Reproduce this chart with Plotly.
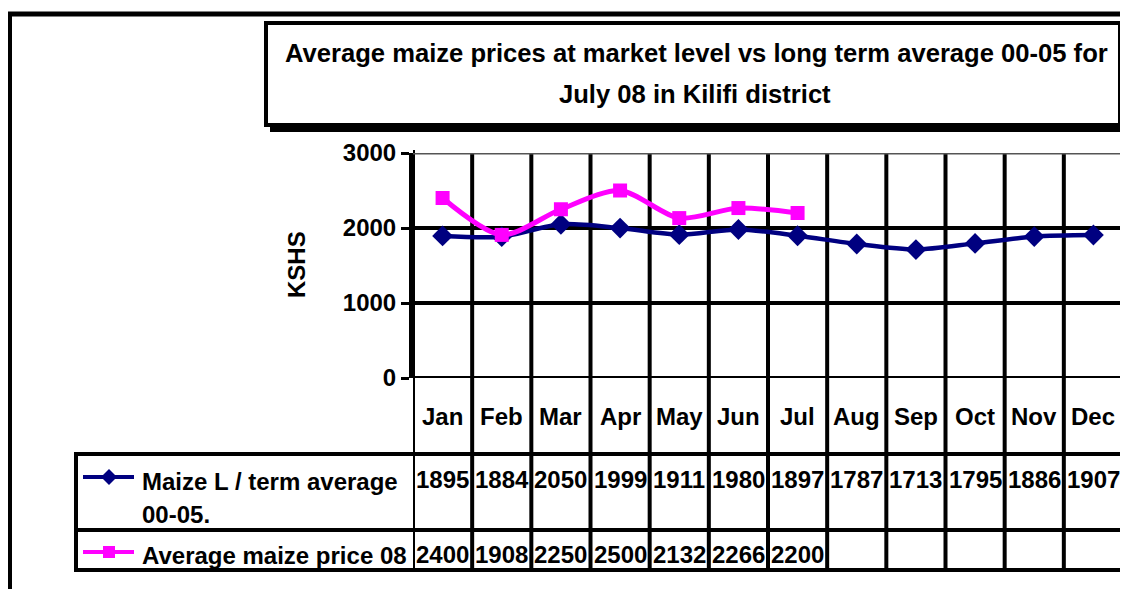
import plotly.graph_objects as go

months = ["Jan", "Feb", "Mar", "Apr", "May", "Jun", "Jul", "Aug", "Sep", "Oct", "Nov", "Dec"]
long_term_avg = [1895, 1884, 2050, 1999, 1911, 1980, 1897, 1787, 1713, 1795, 1886, 1907]
price_08 = [2400, 1908, 2250, 2500, 2132, 2266, 2200]
series_names = ["Maize L / term average<br>00-05.", "Average maize price 08"]
title_lines = ["Average maize prices at market level vs long term average 00-05 for",
               "July 08 in Kilifi district"]
y_ticks = [0, 1000, 2000, 3000]

NAVY = "#000080"
MAGENTA = "#FF00FF"
FONT = "Arial, Liberation Sans, sans-serif"

# page body has an 8px margin; figure is sized to fit the 1128x589 window
OFF = 8
W, H = 1128 - OFF, 589 - OFF
L, R, T = 413 - OFF, 5, 153 - OFF
PW = W - L - R
PH = 378 - 153
B = H - T - PH


def PX(x):  # screen x -> paper
    return (x - 413) / PW


def PY(y):  # screen y -> paper
    return (378 - y) / PH


idx = list(range(len(months)))

fig = go.Figure()
fig.add_trace(go.Scatter(
    x=idx, y=long_term_avg, mode="lines+markers", line=dict(color=NAVY, width=4.5, shape="spline", smoothing=0.8),
    marker=dict(symbol="diamond", size=16, color=NAVY), showlegend=False))
fig.add_trace(go.Scatter(
    x=idx[:len(price_08)], y=price_08, mode="lines+markers",
    line=dict(color=MAGENTA, width=5, shape="spline", smoothing=0.8),
    marker=dict(symbol="square", size=14, color=MAGENTA), showlegend=False))

shapes = []


def line(x0, y0, x1, y1, xref="paper", yref="paper", w=4, color="black", layer="above"):
    shapes.append(dict(type="line", x0=x0, y0=y0, x1=x1, y1=y1, xref=xref, yref=yref,
                       line=dict(color=color, width=w), layer=layer))


# outer frame
line(PX(9), PY(600), PX(9), PY(13), w=6)
line(PX(6), PY(14), PX(1135), PY(14), w=5)
# title box with shadow
shapes.append(dict(type="rect", xref="paper", yref="paper", x0=PX(270), x1=PX(1126), y0=PY(28), y1=PY(132),
                   fillcolor="black", line=dict(width=0), layer="below"))
shapes.append(dict(type="rect", xref="paper", yref="paper", x0=PX(266), x1=PX(1120), y0=PY(23), y1=PY(125),
                   fillcolor="white", line=dict(color="black", width=4), layer="below"))
# vertical column lines
for i in range(len(months) + 1):
    top = PY(150) if i == 0 else PY(153)
    line(i - 0.5, top, i - 0.5, PY(570), xref="x", layer="below" if 0 < i < 12 else "above")
# horizontal lines in plot
line(-0.5, 3000, 11.5, 3000, xref="x", yref="y", w=3, color="#555555")
for v in [1000, 2000]:
    line(-0.5, v, 11.5, v, xref="x", yref="y", layer="below")
line(-0.5, 0, 11.5, 0, xref="x", yref="y")
# table lines
line(PX(76), PY(454), PX(1123), PY(454))
line(PX(76), PY(530), PX(1123), PY(530))
line(PX(76), PY(570), PX(1123), PY(570))
line(PX(76), PY(452), PX(76), PY(572))
# legend keys
line(PX(83), PY(477), PX(134), PY(477), w=4, color=NAVY)
cx, cy = 109, 477
shapes.append(dict(type="path", xref="paper", yref="paper",
                   path=f"M {PX(cx-8)} {PY(cy)} L {PX(cx)} {PY(cy-8)} L {PX(cx+8)} {PY(cy)} L {PX(cx)} {PY(cy+8)} Z",
                   fillcolor=NAVY, line=dict(width=0), layer="above"))
line(PX(83), PY(552), PX(134), PY(552), w=4, color=MAGENTA)
shapes.append(dict(type="rect", xref="paper", yref="paper", x0=PX(103), x1=PX(115), y0=PY(546), y1=PY(558),
                   fillcolor=MAGENTA, line=dict(width=0), layer="above"))

ann = []
bold = dict(family=FONT, size=24, color="black", weight="bold")
title_font = dict(family=FONT, size=25.6, color="black", weight="bold")
# title
ann.append(dict(text=title_lines[0], x=PX(696), y=PY(53), xref="paper", yref="paper", showarrow=False,
                xanchor="center", yanchor="middle", font=title_font))
ann.append(dict(text=title_lines[1], x=PX(695), y=PY(94), xref="paper", yref="paper", showarrow=False,
                xanchor="center", yanchor="middle", font=title_font))
# y axis title
ann.append(dict(text="KSHS", x=PX(296), y=PY(265), xref="paper", yref="paper", showarrow=False,
                textangle=-90, xanchor="center", yanchor="middle", font=bold))
# month labels and table values
for i, m in enumerate(months):
    ann.append(dict(text=m, x=i, y=PY(416), xref="x", yref="paper", showarrow=False,
                    xanchor="center", yanchor="middle", font=bold))
    ann.append(dict(text=str(long_term_avg[i]), x=i, y=PY(479), xref="x", yref="paper", showarrow=False,
                    xanchor="center", yanchor="middle", font=bold))
for i, v in enumerate(price_08):
    ann.append(dict(text=str(v), x=i, y=PY(554), xref="x", yref="paper", showarrow=False,
                    xanchor="center", yanchor="middle", font=bold))
# legend labels
l1, l2 = series_names[0].split("<br>")
ann.append(dict(text=l1, x=PX(140), y=PY(482), xref="paper", yref="paper", showarrow=False,
                xanchor="left", yanchor="middle", font=bold))
ann.append(dict(text=l2, x=PX(140), y=PY(514), xref="paper", yref="paper", showarrow=False,
                xanchor="left", yanchor="middle", font=bold))
ann.append(dict(text=series_names[1], x=PX(140), y=PY(555), xref="paper", yref="paper", showarrow=False,
                xanchor="left", yanchor="middle", font=bold))

fig.update_layout(
    width=W, height=H, autosize=False,
    margin=dict(l=L, r=R, t=T, b=B, pad=0),
    paper_bgcolor="white", plot_bgcolor="white",
    shapes=shapes, annotations=ann,
    xaxis=dict(range=[-0.5, 11.5], showticklabels=False, showgrid=False, zeroline=False,
               showline=False, ticks="", fixedrange=True),
    yaxis=dict(range=[0, 3000], tickvals=y_ticks, ticks="outside", ticklen=8, tickwidth=3,
               tickcolor="black", showgrid=False, zeroline=False, showline=True, linecolor="black",
               linewidth=4, tickfont=bold, ticklabelstandoff=0, fixedrange=True),
)

fig.write_html("out.html")
